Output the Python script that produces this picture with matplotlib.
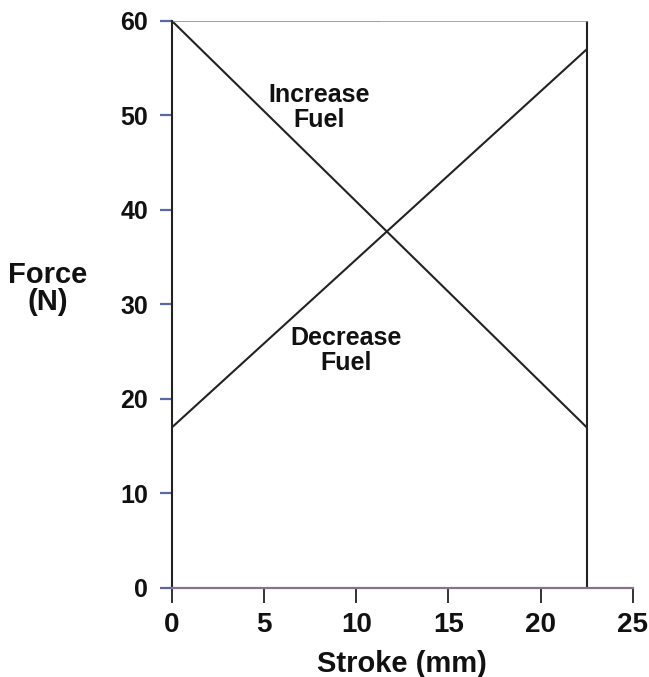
import matplotlib
matplotlib.use("Agg")
import matplotlib.pyplot as plt

plt.rcParams['font.family'] = ['Liberation Sans', 'DejaVu Sans']

stroke_end = 22.5
increase_x = [0, stroke_end]
increase_y = [60, 17]
decrease_x = [0, stroke_end]
decrease_y = [17, 57]
x_ticks = [0, 5, 10, 15, 20, 25]
y_ticks = [0, 10, 20, 30, 40, 50, 60]

fig = plt.figure(figsize=(6.49, 6.77), dpi=100)
ax = fig.add_axes([0.265, 0.1315, 0.71, 0.8375])
ax.set_xlim(0, 25)
ax.set_ylim(0, 60)

ax.plot(increase_x, increase_y, color='#222222', lw=1.5)
ax.plot(decrease_x, decrease_y, color='#222222', lw=1.5)
ax.plot([stroke_end, stroke_end], [0, 60], color='#222222', lw=1.5)
ax.plot([0, stroke_end / 2], [60, 60], color='#6aa86a', lw=1.2)
ax.plot([stroke_end / 2, stroke_end], [60, 60], color='#d87a8a', lw=1.2)

for s in ['top', 'right']:
    ax.spines[s].set_visible(False)
ax.spines['left'].set_color('#222222')
ax.spines['left'].set_linewidth(1.5)
ax.spines['bottom'].set_color('#8a7090')
ax.spines['bottom'].set_linewidth(1.6)

ax.set_xticks(x_ticks)
ax.set_yticks(y_ticks)
ax.tick_params(axis='x', direction='out', length=11, width=1.3, colors='#222222', pad=6, labelsize=20)
ax.tick_params(axis='y', direction='out', length=9, width=1.6, colors='#5a6aa0', pad=8, labelsize=18)
for lab in ax.get_xticklabels() + ax.get_yticklabels():
    lab.set_fontweight('bold')
    lab.set_color('#111111')

ax.set_xlabel('Stroke (mm)', fontsize=21, fontweight='bold', color='#111111', labelpad=9)
fig.text(0.074, 0.574, 'Force\n(N)', ha='center', va='center', fontsize=21,
         fontweight='bold', color='#111111', linespacing=0.95)

ax.text(8.0, 50.8, 'Increase\nFuel', ha='center', va='center', fontsize=18,
        fontweight='bold', color='#111111', linespacing=1.05)
ax.text(9.43, 25.1, 'Decrease\nFuel', ha='center', va='center', fontsize=18,
        fontweight='bold', color='#111111', linespacing=1.05)

fig.savefig('out.png', dpi=100)
